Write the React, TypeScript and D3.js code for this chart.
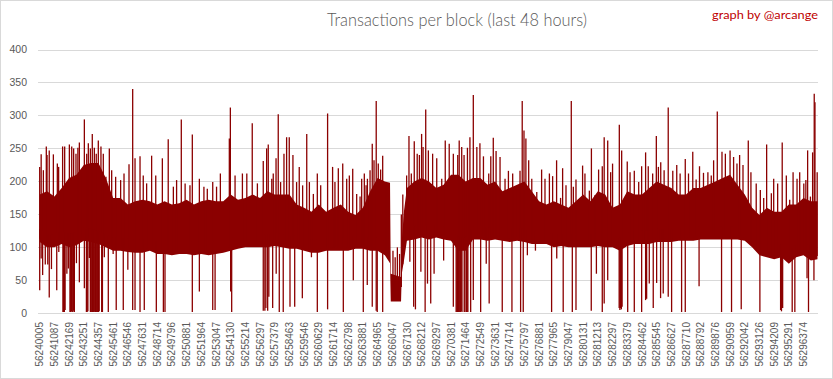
import React from "react";
import * as d3 from "d3";

const yTicks = [0, 50, 100, 150, 200, 250, 300, 350, 400];
const xLabels = ["56240005","56241087","56242169","56243251","56244357","56245461","56246546","56247631","56248714","56249796","56250881","56251964","56253047","56254130","56255214","56256297","56257379","56258463","56259546","56260629","56261714","56262798","56263881","56264965","56266047","56267130","56268212","56269297","56270381","56271464","56272549","56273631","56274714","56275797","56276881","56277965","56279047","56280131","56281213","56282297","56283379","56284462","56285545","56286627","56287710","56288792","56289876","56290959","56292042","56293126","56294209","56295291","56296374"];

// dense band: position in label intervals, upper and lower edge (tx per block)
const bandPos = [0,0.5,1,1.5,2,2.5,3,3.5,4,4.5,5,5.5,6,6.5,7,7.5,8,8.5,9,9.5,10,10.5,11,11.5,12,12.5,13,13.5,14,14.5,15,15.5,16,16.5,17,17.5,18,18.5,19,19.5,20,20.5,21,21.5,22,22.5,23,23.5,23.85,23.9,24.6,24.65,24.8,25,25.5,26,26.5,27,27.5,28,28.5,29,29.5,30,30.5,31,31.5,32,32.5,33,33.5,34,34.5,35,35.5,36,36.5,37,37.5,38,38.5,39,39.5,40,40.5,41,41.5,42,42.5,43,43.5,44,44.5,45,45.5,46,46.5,47,47.5,48,48.5,49,49.5,50,50.5,51,51.5,52,52.5,52.95];
const bandHigh = [180,185,177,190,205,210,225,228,228,205,175,175,165,170,172,170,165,170,165,167,172,165,170,172,170,170,180,172,175,180,175,185,180,180,180,165,160,154,165,154,160,165,154,149,160,185,205,200,198,60,55,110,155,190,200,205,200,190,195,210,210,200,205,205,195,200,185,190,195,200,185,170,165,170,165,160,170,180,170,185,180,160,165,185,180,180,190,200,195,190,180,180,190,190,195,200,205,210,195,180,160,149,160,154,154,165,165,175,170,170];
const bandLow = [108,100,100,105,100,103,110,108,105,100,95,95,93,92,92,95,90,90,88,90,90,88,90,88,90,92,95,98,100,100,100,100,102,100,98,98,95,92,92,95,95,95,95,98,98,95,95,88,76,18,18,60,80,110,112,115,112,115,112,110,95,95,112,112,110,112,110,108,110,108,105,105,105,100,102,100,100,100,100,102,100,100,95,102,105,105,105,108,108,108,110,110,110,112,112,112,112,112,112,110,100,88,85,82,85,75,85,88,80,82,90];

// isolated blocks above the band: [position, tx]
const upSpikes: [number, number][] = [
[0,222],[0.1,241],[0.25,217],[0.45,253],[0.5,240],[0.65,247],[0.93,241],[1.2,227],[1.29,222],[1.56,253],[1.7,253],[2.02,256],[2.18,253],[2.31,250],[2.47,242],[2.6,251],[2.7,259],[2.86,212],[3.04,294],[3.2,242],[3.31,258],[3.45,250],[3.58,272],[3.72,251],[3.85,242],[3.99,262],[4.17,253],[4.33,242],[4.51,207],[4.74,250],[4.9,217],[5.17,207],[5.51,202],[5.74,212],[6.08,226],[6.33,340],[6.49,235],[6.83,238],[7.05,209],[7.28,197],[7.62,239],[7.9,209],[8.35,235],[8.75,264],[9.1,192],[9.32,202],[9.64,294],[9.9,197],[10.23,194],[10.39,271],[10.87,204],[11.18,192],[11.41,189],[11.78,199],[12.04,192],[12.3,212],[12.91,265],[12.98,312],[13.3,209],[13.8,212],[14.1,212],[14.47,288],[14.82,197],[15.22,231],[15.45,250],[15.56,256],[15.8,204],[15.9,212],[16.09,235],[16.24,302],[16.4,199],[16.63,242],[16.81,267],[16.99,267],[17.24,240],[17.49,199],[17.67,222],[17.9,194],[18.18,272],[18.36,199],[18.63,181],[18.9,212],[19.13,194],[19.6,303],[19.94,222],[20.1,199],[20.33,220],[20.63,227],[20.9,204],[21.08,209],[21.31,219],[21.58,181],[21.81,177],[21.92,204],[22.1,212],[22.22,194],[22.31,204],[22.49,217],[22.64,257],[22.76,232],[22.91,322],[23.05,227],[23.21,218],[23.35,239],[23.57,199],[23.68,181],
[24.05,95],[24.2,85],[24.35,100],[24.5,90],[24.62,150],[24.72,180],[24.98,209],
[25.14,269],[25.3,212],[25.5,261],[25.7,242],[25.85,240],[26,272],[26.1,252],[26.28,309],[26.46,247],[26.75,242],[27.03,235],[27.37,204],[27.61,262],[27.88,257],[28.16,242],[28.46,240],[28.56,262],[28.73,252],[28.89,240],[29.12,251],[29.29,267],[29.52,331],[29.76,252],[29.97,258],[30.21,238],[30.57,212],[30.71,238],[30.88,266],[31.07,246],[31.34,237],[31.68,204],[31.91,216],[32.2,212],[32.43,192],[32.7,216],[32.85,322],[32.97,277],[33.1,265],[33.29,232],[33.5,204],[33.84,184],
[34.17,218],[34.4,204],[34.7,212],[34.92,208],[35.19,232],[35.46,175],[35.6,220],[35.83,194],[36.19,322],[36.33,192],[36.51,203],[36.67,172],[36.96,224],[37.12,212],[37.42,186],[37.56,250],[37.8,179],[38.05,218],[38.3,223],[38.43,267],[38.67,262],[38.87,214],[39,227],[39.46,286],[39.62,247],[40,230],[40.19,214],[40.48,216],[40.78,199],[40.98,223],[41.25,244],[41.43,223],[41.73,212],[41.98,269],[42.12,222],[42.28,229],[42.51,217],[42.79,312],[43.1,216],[43.37,225],[43.6,212],[43.95,234],[44.17,212],[44.46,245],[44.69,203],[44.92,223],[45.19,213],[45.49,214],[45.72,209],[45.88,232],[46.13,306],[46.45,245],[46.68,242],[47,247],[47.24,237],[47.47,227],[47.65,240],[47.88,225],[48.24,262],[48.42,214],[48.78,197],[49.06,187],[49.29,175],[49.49,256],[49.81,182],[49.97,204],[50.24,197],[50.55,259],[50.83,209],[51.06,172],[51.29,214],[51.56,204],[51.74,214],[52.02,197],[52.16,202],[52.28,247],[52.47,177],[52.62,244],[52.73,333],[52.78,320],[52.93,214]
];

// isolated blocks below the band: [position, tx]
const downSpikes: [number, number][] = [
[0,35],[0.1,83],[0.2,58],[0.38,74],[0.55,74],[0.65,24],[0.8,67],[1.16,35],[1.3,93],[1.58,2],[1.63,2],[1.68,2],[1.73,5],[1.85,60],[1.95,68],[2.06,2],[2.11,2],[2.16,3],[2.21,2],[2.26,2],[2.31,4],[2.36,2],[2.5,76],[2.7,47],[3.04,38],[3.18,2],[3.23,2],[3.28,3],[3.38,84],[3.45,2],[3.5,2],[3.55,2],[3.6,2],[3.65,2],[3.7,3],[3.75,2],[3.8,2],[3.85,2],[3.9,2],[3.95,2],[4,2],[4.05,3],[4.22,2],[4.27,2],[4.4,85],[4.67,2],[5,90],[5.21,5],[5.69,5],[6,66],[6.33,5],[6.49,5],[6.83,2],[7.12,5],[7.94,2],[8.42,2],[8.53,2],[10.39,2],[10.87,33],[11.78,5],[11.94,5],[13,33],[13.07,2],[15.22,4],[15.33,4],[15.4,8],[15.52,4],[15.6,25],[15.86,8],[16.1,60],[16.31,2],[16.58,2],[17.04,10],[17.36,10],[17.88,23],[18.5,85],[18.9,2],[19.6,6],[20.67,2],[21.35,50],[22.03,2],[22.3,43],[22.64,10],[22.91,4],[22.98,2],[23.35,2],
[25.2,78],[25.46,10],[25.58,6],[25.95,63],[26.24,2],[26.4,45],[26.62,15],[26.85,60],[27.5,80],[28.16,10],[28.35,2],[28.4,2],[28.45,2],[28.5,2],[28.55,2],[28.6,2],[28.65,2],[28.7,3],[28.75,2],[28.9,2],[28.95,2],[29.05,2],[29.1,2],[29.15,2],[29.34,2],[29.52,20],[30.02,2],[30.4,75],[30.6,15],[31.49,2],[32.15,2],[32.74,2],[32.92,2],[33.2,88],[33.75,95],
[34.85,2],[35.2,83],[35.64,2],[36.26,2],[36.51,5],[37.55,4],[37.9,60],[38.3,2],[38.43,15],[38.67,50],[39.45,8],[39.5,5],[39.55,8],[39.6,6],[39.65,10],[40.03,2],[40.48,2],[40.98,2],[41.25,20],[41.32,22],[41.5,45],[41.77,8],[42,46],[42.27,23],[42.45,30],[42.79,25],[43.02,2],[43.7,2],[43.95,2],[44.89,41],[46.42,2],[47.1,2],[47.76,6],[49.03,2],[50.44,5],[50.5,3],[50.58,8],[51.23,2],[51.41,2],[52.24,53],[52.34,2],[52.71,50]
];

const W = 833, H = 379;
const RED = "#8b0000";
const GRAY = "#595959";
const FONT = "'Liberation Sans', Arial, sans-serif";

export default function App() {
  const x = d3.scaleLinear().domain([0, 53]).range([39.7, 818.2]);
  const y = d3.scaleLinear().domain([0, 400]).range([313.3, 49.5]);
  const band = bandPos.map((p, i) => ({ p, hi: bandHigh[i], lo: bandLow[i] }));
  const area = d3.area<{ p: number; hi: number; lo: number }>()
    .x(d => x(d.p)).y0(d => y(d.lo)).y1(d => y(d.hi)).curve(d3.curveLinear);
  const bandAt = (p: number) => {
    const i = Math.max(1, d3.bisectLeft(bandPos, p));
    const j = Math.min(i, bandPos.length - 1);
    const a = band[j - 1], b = band[j];
    const t = b.p === a.p ? 0 : (p - a.p) / (b.p - a.p);
    return { hi: a.hi + (b.hi - a.hi) * t, lo: a.lo + (b.lo - a.lo) * t };
  };
  return (
    <svg width={W} height={H} style={{ position: "absolute", left: 0, top: 0, background: "#fff" }}>
      <rect x={0.5} y={0.5} width={W - 1} height={H - 1} fill="#fff" stroke="#d9d9d9" />
      <text x={457} y={26} textAnchor="middle" fontFamily="Lato, 'Liberation Sans', sans-serif" fontWeight={300} fontSize={18.5} fill={GRAY} textLength={260} lengthAdjust="spacingAndGlyphs">Transactions per block (last 48 hours)</text>
      <text x={818} y={19} textAnchor="end" fontFamily="Lato, 'Liberation Sans', sans-serif" fontSize={12} fill="#c00000" textLength={106} lengthAdjust="spacingAndGlyphs">graph by @arcange</text>
      {yTicks.map(t => (
        <g key={t}>
          <line x1={38} x2={818} y1={Math.round(y(t)) + 0.5} y2={Math.round(y(t)) + 0.5} stroke="#d9d9d9" strokeWidth={1} />
          <text x={27} y={y(t) + 3.8} textAnchor="end" fontFamily={FONT} fontSize={10.5} fill={GRAY}>{t}</text>
        </g>
      ))}
      <path d={area(band) || ""} fill={RED} />
      {upSpikes.map(([p, v], i) => (
        <line key={"u" + i} x1={x(p)} x2={x(p)} y1={y(v)} y2={y(bandAt(p).lo + 5)} stroke={RED} strokeWidth={1.3} />
      ))}
      {downSpikes.map(([p, v], i) => (
        <line key={"d" + i} x1={x(p)} x2={x(p)} y1={y(v)} y2={y(Math.min(bandAt(p).hi, bandAt(p).lo + 20))} stroke={RED} strokeWidth={1.3} />
      ))}
      {xLabels.map((l, i) => (
        <text key={l} transform={`translate(${x(i) + 3.6},322) rotate(-90)`} textAnchor="end" fontFamily={FONT} fontSize={10} fill={GRAY}>{l}</text>
      ))}
    </svg>
  );
}
